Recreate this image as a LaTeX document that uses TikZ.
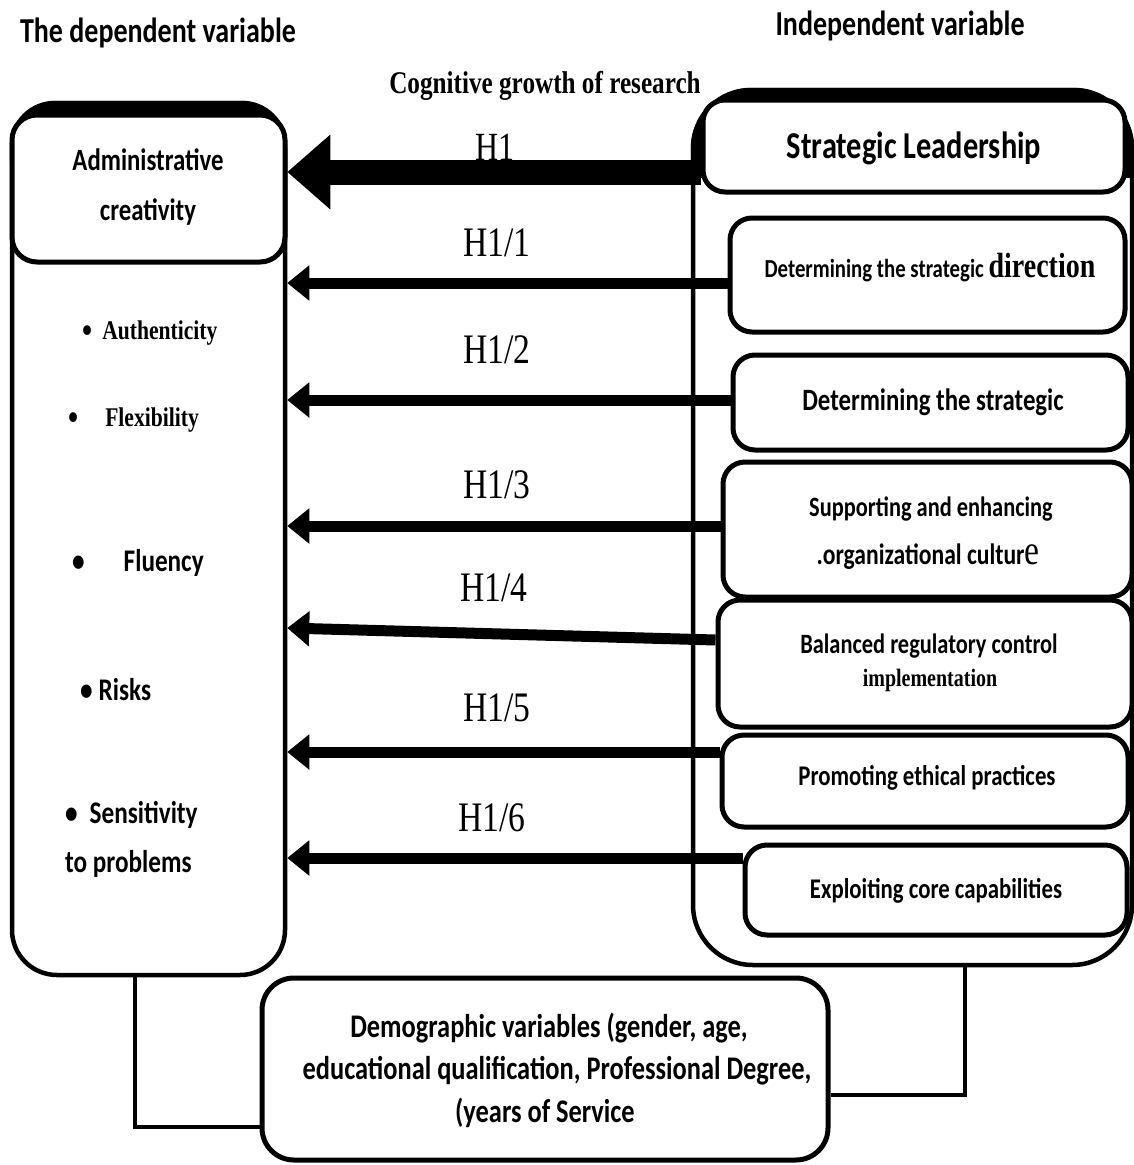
\documentclass[tikz,border=0pt]{standalone}
\usepackage{fontspec}
\setmainfont{Carlito}[FakeStretch=0.8]
\newfontfamily\tms{Liberation Serif}[FakeStretch=0.8]
\usetikzlibrary{arrows.meta}
\newcommand\fsz[1]{\fontsize{#1}{#1}\selectfont}
\newcommand\bigbul{\raisebox{-3pt}{\fsz{36}•}}
\tikzset{
  frame/.style={draw, line width=4.5pt, fill=white},
  box/.style={draw, line width=5pt, rounded corners=22pt, fill=white, inner sep=0pt},
  hyp/.style={line width=11pt, -{Triangle[length=22pt,width=34pt]}},
  bighyp/.style={line width=25pt, -{Triangle[length=43pt,width=72pt]}},
  link/.style={line width=3.5pt},
  hlab/.style={font={\tms\fsz{42}}, inner sep=0pt},
  btxt/.style={font={\bfseries\fsz{28}}, inner sep=0pt},
  ltxt/.style={font={\bfseries\fsz{31.5}}, inner sep=0pt},
  stxt/.style={font={\tms\bfseries\fsz{27}}, inner sep=0pt},
}
\begin{document}
\begin{tikzpicture}[x=1pt,y=-1pt]
\useasboundingbox[fill=white] (0,0) rectangle (1134,1165);

% titles
\node[btxt, font={\bfseries\fsz{35}}] (tdep) at (158,33) {The dependent variable};
\node[btxt, font={\bfseries\fsz{35}}] (tind) at (900,26) {Independent variable};
\node[stxt, font={\tms\bfseries\fsz{31.5}}] (tcog) at (545,86) {Cognitive growth of research};

% frames
\node[frame, rounded corners=60pt, minimum width=439pt, minimum height=875pt] (ind) at (912.5,527.5) {};
\node[frame, rounded corners=45pt, minimum width=273pt, minimum height=872pt] (dep) at (148.5,539) {};
% thick top bands of the frames
\begin{scope}
  \clip[rounded corners=45pt] (dep.north west) rectangle (dep.south east);
  \fill ([xshift=-5pt,yshift=5pt]dep.north west) rectangle ([yshift=-60pt]dep.north east);
\end{scope}
\begin{scope}
  \clip[rounded corners=60pt] (ind.north west) rectangle (ind.south east);
  \fill ([xshift=-5pt,yshift=5pt]ind.north west) rectangle ([xshift=5pt,yshift=-90pt]ind.north east);
\end{scope}

% dependent variable box
\node[box, rounded corners=25pt, minimum width=273pt, minimum height=147pt] (ac) at (148.5,188.5) {};
\node[btxt, font={\bfseries\fsz{31}}] (ac1) at (148,160) {Administrative};
\node[btxt, font={\bfseries\fsz{31}}] (ac2) at (148,212) {creativity};

% dimensions of the dependent variable
\node[stxt, anchor=west] (d1) at (82,333) {\bigbul\hspace{10pt}Authenticity};
\node[stxt, anchor=west] (d2) at (68,420) {\bigbul\hspace{27pt}Flexibility};
\node[ltxt, anchor=west] (d3) at (72,563) {•\hspace{39pt}Fluency};
\node[ltxt, anchor=west] (d4) at (80,690) {•\hspace{6pt}Risks};
\node[ltxt, anchor=west] (d5) at (65,815) {•\hspace{12pt}Sensitivity};
\node[ltxt, anchor=west] (d6) at (65,864) {to problems};

% independent variable boxes
\node[box, minimum width=422pt, minimum height=92pt] (sl) at (914,146) {};
\node[btxt, font={\bfseries\fsz{38}}] (slt) at (914,148) {Strategic Leadership};

\node[box, minimum width=395pt, minimum height=114pt] (b1) at (927.5,275) {};
\node[btxt, font={\bfseries\fsz{26}}] (b1t) at (930,268) {Determining the strategic {\tms\fsz{35}direction}};

\node[box, minimum width=395pt, minimum height=95pt] (b2) at (930.5,402.5) {};
\node[btxt, font={\bfseries\fsz{31}}] (b2t) at (933,402) {Determining the strategic};

\node[box, minimum width=409pt, minimum height=135pt] (b3) at (927.5,529.5) {};
\node[btxt] (b3t) at (931,509) {Supporting and enhancing};
\node[btxt, font={\bfseries\fsz{29.5}}] (b3u) at (928,557) {.organizational cultur{\tms\mdseries\fsz{42}e}};

\node[box, minimum width=414pt, minimum height=127pt] (b4) at (925,663.5) {};
\node[btxt] (b4t) at (929,646) {Balanced regulatory control};
\node[stxt, font={\tms\bfseries\fsz{25}}] (b4u) at (930,680) {implementation};

\node[box, minimum width=406pt, minimum height=92pt] (b5) at (925,781) {};
\node[btxt, font={\bfseries\fsz{28.5}}] (b5t) at (927,778) {Promoting ethical practices};

\node[box, minimum width=382pt, minimum height=90pt] (b6) at (936,890) {};
\node[btxt, font={\bfseries\fsz{28.5}}] (b6t) at (936,891) {Exploiting core capabilities};

% hypothesis labels
\node[hlab, font={\tms\fsz{40}}] (h0) at (495,147) {H1};
\node[hlab] (h1) at (497,243) {H1/1};
\node[hlab] (h2) at (497,350) {H1/2};
\node[hlab] (h3) at (497,485) {H1/3};
\node[hlab] (h4) at (494,588) {H1/4};
\node[hlab] (h5) at (497,708) {H1/5};
\node[hlab] (h6) at (492,818) {H1/6};

% arrow start points
\coordinate (s0) at ([yshift=-26pt]sl.west);
\coordinate (s1) at ([yshift=-8pt]b1.west);
\coordinate (s2) at ([yshift=2.5pt]b2.west);
\coordinate (s3) at ([yshift=3.5pt]b3.west);
\coordinate (s4) at ([yshift=23.5pt]b4.west);
\coordinate (e4) at ([yshift=35.5pt]b4.west);
\coordinate (s5) at ([yshift=29pt]b5.west);
\coordinate (s6) at ([yshift=32pt]b6.west);

% hypothesis arrows
\draw[bighyp] (s0) -- (dep.east |- s0);
\draw[hyp] (s1) -- (dep.east |- s1);
\draw[hyp] (s2) -- (dep.east |- s2);
\draw[hyp] (s3) -- (dep.east |- s3);
\draw[hyp] (s4) -- (dep.east |- e4);
\draw[hyp] (s5) -- (dep.east |- s5);
\draw[hyp] (s6) -- (dep.east |- s6);

% demographic variables
\node[box, rounded corners=32pt, minimum width=566pt, minimum height=182pt] (demo) at (545,1069) {};
\node[btxt, font={\bfseries\fsz{33}}] (dm1) at (549,1028) {Demographic variables (gender, age,};
\node[btxt, font={\bfseries\fsz{33}}] (dm2) at (557,1071) {educational qualification, Professional Degree,};
\node[btxt, font={\bfseries\fsz{33}}] (dm3) at (545,1113) {(years of Service};

\coordinate (lk) at (135,1127);
\coordinate (rk) at (965,1095);
\draw[link] (dep.south -| lk) -- (lk) -- (demo.west |- lk);
\draw[link] (ind.south -| rk) -- (rk) -- (demo.east |- rk);
\end{tikzpicture}
\end{document}
